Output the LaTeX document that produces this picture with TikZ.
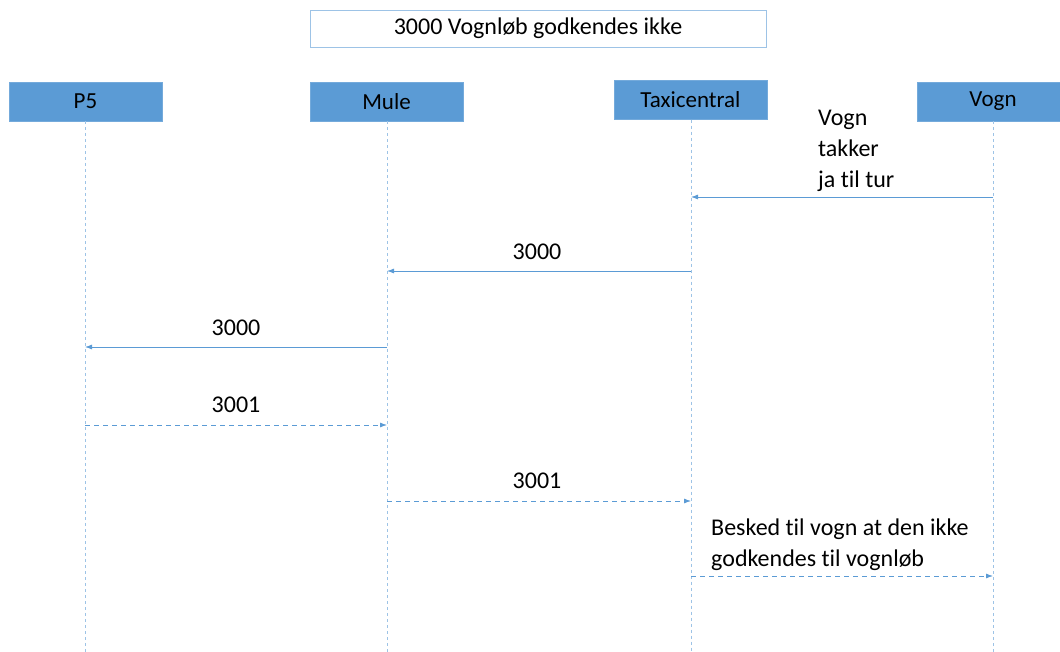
\documentclass[tikz,border=0pt]{standalone}
\usepackage{fontspec}
\setmainfont[Ligatures=CommonOff]{Carlito}
\usetikzlibrary{arrows.meta}
\definecolor{actorfill}{HTML}{5B9BD5}
\definecolor{msgline}{HTML}{5B9BD5}
\definecolor{lifeline}{HTML}{9DC3E6}
\definecolor{titleborder}{HTML}{9DC3E6}
\tikzset{
  actor/.style={draw=actorfill!85!white, fill=actorfill, minimum width=153pt, minimum height=39pt, inner sep=0pt, font=\fontsize{23}{28}\selectfont},
  titlebox/.style={draw=titleborder, line width=0.8pt, minimum width=456pt, minimum height=37pt, inner sep=0pt, font=\fontsize{24}{28}\selectfont},
  life/.style={draw=lifeline, dashed, dash pattern=on 3pt off 3pt, line width=0.7pt},
  msg/.style={draw=msgline, line width=0.8pt, -{Latex[length=7pt,width=5pt]}},
  reply/.style={msg, dash pattern=on 5pt off 4pt},
  lbl/.style={font=\fontsize{24}{31}\selectfont, inner sep=0pt, align=left}
}
\begin{document}
\begin{tikzpicture}[x=1pt, y=-1pt]
\useasboundingbox (0,0) rectangle (1060,652);
% title
\node[titlebox] (title) at (538,28.5) {3000 Vognløb godkendes ikke};
% actors
\node[actor] (p5)   at (85.5,101.5) {P5};
\node[actor] (mule) at (386.5,101.5) {Mule};
\node[actor] (taxi) at (690.5,100) {Taxicentral};
\node[actor, minimum width=143pt] (vogn) at (988.5,101.5) {};
\node[font=\fontsize{23}{28}\selectfont] (vognlbl) at (993,101.5) {Vogn};
% lifeline ends
\coordinate (p5end)   at (85,652);
\coordinate (muleend) at (387,652);
\coordinate (taxiend) at (691,652);
\coordinate (vognend) at (993,652);
\draw[life] (p5.south -| p5end) -- (p5end);
\draw[life] (mule.south -| muleend) -- (muleend);
\draw[life] (taxi.south -| taxiend) -- (taxiend);
\draw[life] (vogn.south -| vognend) -- (vognend);
% message anchors on the lifelines
\coordinate (v1) at (993,197); \coordinate (t1) at (691,197);
\coordinate (t2) at (691,271); \coordinate (m2) at (387,271);
\coordinate (m3) at (387,347); \coordinate (p3) at (85,347);
\coordinate (p4) at (85,425);  \coordinate (m4) at (387,425);
\coordinate (m5) at (387,501); \coordinate (t5) at (691,501);
\coordinate (t6) at (691,576); \coordinate (v6) at (993,576);
% messages
\draw[msg] (v1) -- (t1);
\node[lbl, anchor=north west] (l1) at (818,110) {Vogn\\takker\\ja til tur};
\draw[msg] (t2) -- (m2);
\node[lbl] (l2) at (537,252) {3000};
\draw[msg] (m3) -- (p3);
\node[lbl] (l3) at (236,328) {3000};
\draw[reply] (p4) -- (m4);
\node[lbl] (l4) at (236,405) {3001};
\draw[reply] (m5) -- (t5);
\node[lbl] (l5) at (537,481) {3001};
\draw[reply] (t6) -- (v6);
\node[lbl, anchor=north west] (l6) at (711,519) {Besked til vogn at den ikke\\godkendes til vognløb};
\end{tikzpicture}
\end{document}
